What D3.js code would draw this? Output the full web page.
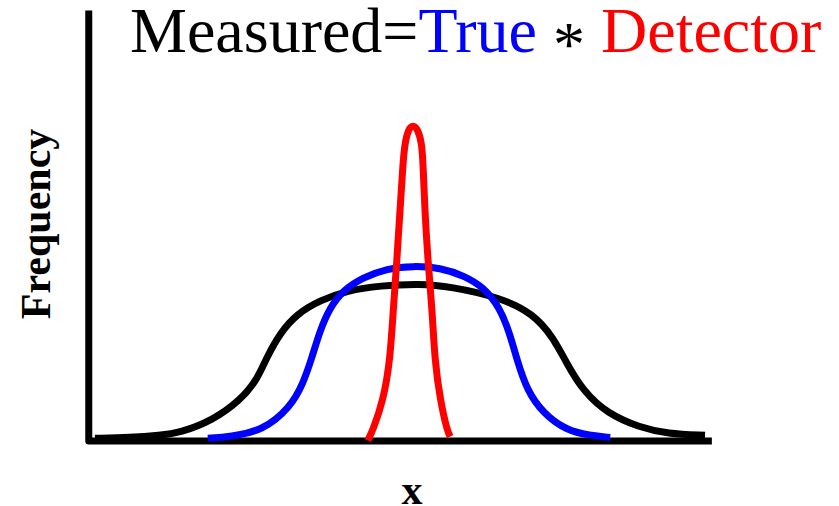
<!DOCTYPE html>
<html>
<head>
<meta charset="utf-8">
<script src="https://cdn.jsdelivr.net/npm/d3@7"></script>
<style>
  html, body { margin: 0; padding: 0; background: #fff; }
  svg { display: block; }
</style>
</head>
<body>
<svg id="chart" width="839" height="506"></svg>
<script>
// Measured distribution (true spectrum smeared by the detector response)
const measuredX = [0.8, 6.5, 11.3, 14.5, 19.8, 24.2, 26.9, 28.5, 30.6, 33.4, 37.1, 41.5, 46.8, 53.2, 58.1, 66.1, 71.5, 74.7, 76.9, 79.5, 83.4, 88.7, 93.1, 99.2];
const measuredY = [0.5, 0.7, 1.2, 1.8, 4.7, 9.3, 14.0, 19.3, 24.9, 29.5, 32.6, 34.9, 36.0, 36.5, 35.8, 33.3, 29.5, 24.0, 17.9, 11.6, 6.3, 3.0, 1.6, 1.2];

// True distribution
const trueX = [19.0, 22.6, 27.9, 32.3, 34.4, 35.8, 37.1, 38.7, 40.8, 44.0, 47.9, 52.1, 56.5, 60.5, 63.5, 66.1, 67.7, 68.9, 70.5, 73.1, 76.9, 80.6, 83.9];
const trueY = [0.5, 0.9, 2.3, 7.7, 13.3, 19.3, 25.6, 30.9, 34.9, 37.9, 40.0, 40.6, 40.2, 38.2, 35.6, 30.9, 24.9, 18.6, 11.6, 6.3, 2.3, 1.2, 0.7];

// Detector response
const detectorX = [44.8, 45.6, 47.3, 48.4, 48.9, 49.5, 50.0, 50.5, 50.8, 51.3, 52.1, 52.9, 53.5, 53.7, 54.0, 54.5, 55.2, 55.6, 56.5, 57.6, 58.1];
const detectorY = [0.0, 2.3, 9.3, 18.6, 30.2, 41.9, 53.5, 65.1, 69.1, 72.3, 73.5, 72.3, 69.1, 65.1, 53.5, 41.9, 30.2, 18.6, 9.3, 2.3, 0.9];

// Axis extents in data units
const xAxisExtent = [-0.2, 100.3];
const yAxisExtent = [-0.1, 100];

const titleParts = [
  { text: "Measured=", color: "#000000" },
  { text: "True", color: "#0000ff" },
  { text: " ", color: "#000000" },
  { text: "*", color: "#000000", shift: 14 },
  { text: " ", color: "#000000" },
  { text: "Detector", color: "#ff0000" }
];
const xLabel = "x";
const yLabel = "Frequency";

const svg = d3.select("#chart");
const x = d3.scaleLinear().domain([0, 100]).range([90, 710]);
const y = d3.scaleLinear().domain([0, 100]).range([440.5, 10.5]);

const zip = (xs, ys) => xs.map((v, i) => [v, ys[i]]);
const line = d3.line()
  .x(d => x(d[0]))
  .y(d => y(d[1]))
  .curve(d3.curveBasis);

// Axes: an L-shaped frame with no ticks
const frame = d3.path();
frame.moveTo(x(xAxisExtent[0]), y(yAxisExtent[1]));
frame.lineTo(x(xAxisExtent[0]), y(yAxisExtent[0]));
frame.lineTo(x(xAxisExtent[1]), y(yAxisExtent[0]));
svg.append("path")
  .attr("d", frame.toString())
  .attr("fill", "none")
  .attr("stroke", "#000")
  .attr("stroke-width", 7)
  .attr("stroke-linejoin", "round");

const series = [
  { xs: measuredX, ys: measuredY, color: "#000000" },
  { xs: trueX, ys: trueY, color: "#0000ff" },
  { xs: detectorX, ys: detectorY, color: "#ff0000" }
];

svg.selectAll("path.curve")
  .data(series)
  .join("path")
  .attr("class", "curve")
  .attr("d", d => line(zip(d.xs, d.ys)))
  .attr("fill", "none")
  .attr("stroke", d => d.color)
  .attr("stroke-width", 7)
  .attr("stroke-linecap", "butt")
  .attr("stroke-linejoin", "round");

// Title
const title = svg.append("text")
  .attr("x", 130)
  .attr("y", 52)
  .attr("font-family", "'Liberation Serif', 'Times New Roman', serif")
  .attr("font-size", 64)
  .attr("xml:space", "preserve")
  .style("white-space", "pre");
titleParts.forEach((p, i) => {
  const prevShift = i > 0 ? (titleParts[i - 1].shift || 0) : 0;
  const dy = (p.shift || 0) - prevShift;
  title.append("tspan")
    .attr("fill", p.color)
    .attr("dy", dy)
    .text(p.text);
});

// Axis labels
svg.append("text")
  .attr("x", 412)
  .attr("y", 504)
  .attr("text-anchor", "middle")
  .attr("font-family", "'Liberation Serif', 'Times New Roman', serif")
  .attr("font-weight", "bold")
  .attr("font-size", 42)
  .attr("fill", "#000")
  .text(xLabel);

svg.append("text")
  .attr("transform", "translate(50,224) rotate(-90)")
  .attr("text-anchor", "middle")
  .attr("font-family", "'Liberation Serif', 'Times New Roman', serif")
  .attr("font-weight", "bold")
  .attr("font-size", 42)
  .attr("fill", "#000")
  .text(yLabel);
</script>
</body>
</html>
